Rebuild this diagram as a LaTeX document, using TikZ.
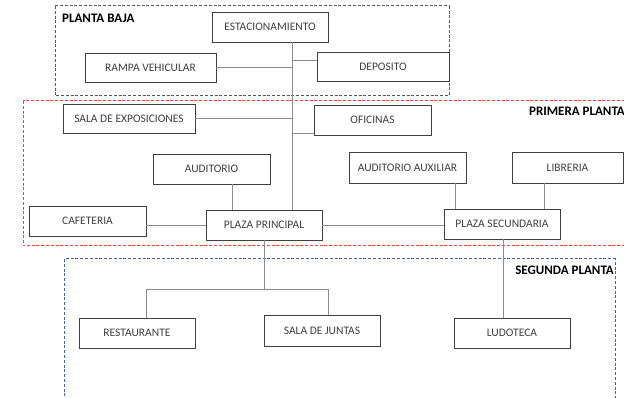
\documentclass[tikz,border=0pt]{standalone}
\usepackage{fontspec}
\setmainfont{Carlito}
\definecolor{boxc}{HTML}{404040}
\definecolor{linec}{HTML}{8C8C8C}
\definecolor{redd}{HTML}{FF3B3B}
\definecolor{blued}{HTML}{3F63A8}
\definecolor{grayd}{HTML}{595959}
\tikzset{
  room/.style={draw=boxc, line width=0.9pt, rectangle, inner sep=0pt, text=boxc, font=\fontsize{11.5}{13}\selectfont},
  conn/.style={draw=linec, line width=0.8pt},
  zone/.style={line width=1pt, dash pattern=on 3pt off 1.8pt},
  zlabel/.style={font=\fontsize{13}{15}\selectfont\bfseries, text=black, inner sep=0pt}
}
\begin{document}
\begin{tikzpicture}[x=1pt,y=-1pt]
\useasboundingbox (0,0) rectangle (624,398);
% zones
\draw[zone, draw=grayd] (55,6) rectangle (449,96);
\draw[zone, draw=redd] (23,101) rectangle (630,246);
\draw[zone, draw=blued] (64,259) rectangle (615,404);
\node[zlabel, anchor=west] (lb) at (62,18) {PLANTA BAJA};
\node[zlabel, anchor=east] (lp) at (625,111) {PRIMERA PLANTA};
\node[zlabel, anchor=east] (ls) at (614,270) {SEGUNDA PLANTA};
% rooms
\node[room, minimum width=116pt, minimum height=30pt] (esta) at (270,27) {ESTACIONAMIENTO};
\node[room, minimum width=131pt, minimum height=29pt] (rampa) at (150.5,67.5) {RAMPA VEHICULAR};
\node[room, minimum width=132pt, minimum height=29pt] (dep) at (383,66.5) {DEPOSITO};
\node[room, minimum width=132pt, minimum height=29pt] (sala) at (129,118.5) {SALA DE EXPOSICIONES};
\node[room, minimum width=117pt, minimum height=30pt] (ofi) at (372.5,120) {OFICINAS};
\node[room, minimum width=117pt, minimum height=30pt] (aud) at (211.5,169) {AUDITORIO};
\node[room, minimum width=117pt, minimum height=31pt] (aux) at (407.5,167.5) {AUDITORIO AUXILIAR};
\node[room, minimum width=111pt, minimum height=31pt] (lib) at (567.5,167.5) {LIBRERIA};
\node[room, minimum width=117pt, minimum height=30pt] (caf) at (87.5,221) {CAFETERIA};
\node[room, minimum width=116pt, minimum height=30pt] (pp) at (264,225) {PLAZA PRINCIPAL};
\node[room, minimum width=116pt, minimum height=30pt] (ps) at (502,224) {PLAZA SECUNDARIA};
\node[room, minimum width=116pt, minimum height=30pt] (rest) at (137,333) {RESTAURANTE};
\node[room, minimum width=116pt, minimum height=31pt] (jun) at (322,330.5) {SALA DE JUNTAS};
\node[room, minimum width=116pt, minimum height=30pt] (lud) at (512,333) {LUDOTECA};
% connectors
\coordinate (t) at (292,0);
\coordinate (hb) at (0,289);
\draw[conn] (t |- esta.south) -- (t |- pp.north);
\draw[conn] (rampa.east) -- (rampa.east -| t);
\draw[conn] ([yshift=6.5pt]dep.west) -- ([yshift=6.5pt]dep.west -| t);
\draw[conn] (sala.east) -- (sala.east -| t);
\draw[conn] ([yshift=-13pt]ofi.west) -- ([yshift=-13pt]ofi.west -| t);
\draw[conn] ([xshift=20.5pt]aud.south) -- ([xshift=20.5pt]aud.south |- pp.north);
\draw[conn] (caf.east |- pp.west) -- (pp.west);
\draw[conn] (pp.east) -- (pp.east -| ps.west);
\draw[conn] ([xshift=47.5pt]aux.south) -- ([xshift=47.5pt]aux.south |- ps.north);
\draw[conn] ([xshift=-23.5pt]lib.south) -- ([xshift=-23.5pt]lib.south |- ps.north);
\draw[conn] (pp.south) -- (pp.south |- hb);
\draw[conn] ([xshift=9pt]rest.north) -- ([xshift=9pt]rest.north |- hb) -- ([xshift=6pt]jun.north |- hb) -- ([xshift=6pt]jun.north);
\draw[conn] ([xshift=1pt]ps.south) -- ([xshift=1pt]ps.south |- lud.north);
\end{tikzpicture}
\end{document}
